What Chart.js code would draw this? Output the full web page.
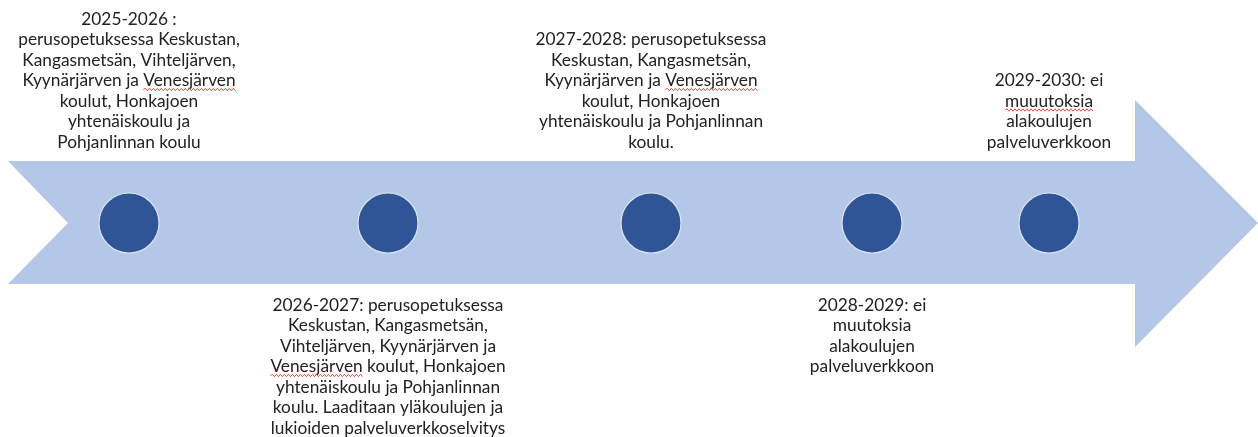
<!DOCTYPE html>
<html>
<head>
<meta charset="utf-8">
<script src="https://cdn.jsdelivr.net/npm/chart.js@4/dist/chart.umd.min.js"></script>
<style>
  html, body { margin: 0; padding: 0; background: #ffffff; }
  #wrap { width: 1258px; height: 437px; position: relative; }
</style>
</head>
<body>
<div id="wrap"><canvas id="c" width="1258" height="437"></canvas></div>
<script>
// ---- Data ----
const periods = ['2025-2026', '2026-2027', '2027-2028', '2028-2029', '2029-2030'];
// position of each milestone along the timeline (timeline units, 0..1258)
const milestonePos = [129, 388, 651, 872, 1049];
// which side of the arrow the description sits on
const labelSide = ['above', 'below', 'above', 'below', 'above'];
const text2025 = ['2025-2026 :', 'perusopetuksessa Keskustan,', 'Kangasmetsän, Vihteljärven,', 'Kyynärjärven ja Venesjärven', 'koulut, Honkajoen', 'yhtenäiskoulu ja', 'Pohjanlinnan koulu'];
const text2026 = ['2026-2027: perusopetuksessa', 'Keskustan, Kangasmetsän,', 'Vihteljärven, Kyynärjärven ja', 'Venesjärven koulut, Honkajoen', 'yhtenäiskoulu ja Pohjanlinnan', 'koulu. Laaditaan yläkoulujen ja', 'lukioiden palveluverkkoselvitys'];
const text2027 = ['2027-2028: perusopetuksessa', 'Keskustan, Kangasmetsän,', 'Kyynärjärven ja Venesjärven', 'koulut, Honkajoen', 'yhtenäiskoulu ja Pohjanlinnan', 'koulu.'];
const text2028 = ['2028-2029: ei', 'muutoksia', 'alakoulujen', 'palveluverkkoon'];
const text2029 = ['2029-2030: ei', 'muuutoksia', 'alakoulujen', 'palveluverkkoon'];
const descriptions = [text2025, text2026, text2027, text2028, text2029];
// words marked by the spell checker in the original
const flaggedWords = ['Venesjärven', 'muuutoksia'];

// ---- Styling / layout ----
const ARROW_COLOR = '#b4c7e7';
const DOT_COLOR = '#2f5597';
const TEXT_COLOR = '#222222';
const FONT = '17.3px Lato, "Open Sans", sans-serif';
const LINE_H = 20.5;
const AXIS_Y = 223;            // timeline centre line (y units)
const ABOVE_LAST = 142;        // last line centre for texts above
const BELOW_FIRST = 305;       // first line centre for texts below

// arrow outline (decoration, in scale units)
const arrowShape = [
  [8, 161], [1135, 161], [1135, 100], [1258, 223], [1135, 347], [1135, 284], [8, 284], [68, 223]
];

const arrowPlugin = {
  id: 'arrow',
  beforeDatasetsDraw(chart) {
    const { ctx, scales: { x, y } } = chart;
    ctx.save();
    ctx.beginPath();
    arrowShape.forEach(([px, py], i) => {
      const X = x.getPixelForValue(px), Y = y.getPixelForValue(py);
      if (i === 0) ctx.moveTo(X, Y); else ctx.lineTo(X, Y);
    });
    ctx.closePath();
    ctx.fillStyle = ARROW_COLOR;
    ctx.fill();
    ctx.restore();
  }
};

function wavy(ctx, x0, x1, yb) {
  ctx.save();
  ctx.strokeStyle = '#e8493f';
  ctx.lineWidth = 1;
  ctx.beginPath();
  const step = 2;
  let up = true;
  ctx.moveTo(x0, yb);
  for (let xx = x0 + step; xx <= x1; xx += step) {
    ctx.lineTo(xx, yb + (up ? -1.2 : 1.2));
    up = !up;
  }
  ctx.stroke();
  ctx.restore();
}

const labelPlugin = {
  id: 'labels',
  afterDatasetsDraw(chart) {
    const { ctx, scales: { x, y } } = chart;
    ctx.save();
    ctx.font = FONT;
    ctx.fillStyle = TEXT_COLOR;
    ctx.textBaseline = 'middle';
    descriptions.forEach((lines, i) => {
      const cx = x.getPixelForValue(milestonePos[i]);
      const firstY = labelSide[i] === 'above'
        ? ABOVE_LAST - (lines.length - 1) * LINE_H
        : BELOW_FIRST;
      lines.forEach((line, j) => {
        const ly = y.getPixelForValue(firstY + j * LINE_H);
        const w = ctx.measureText(line).width;
        const left = cx - w / 2;
        ctx.textAlign = 'left';
        ctx.fillText(line, left, ly);
        flaggedWords.forEach(word => {
          const k = line.indexOf(word);
          if (k >= 0) {
            const a = left + ctx.measureText(line.slice(0, k)).width;
            const b = a + ctx.measureText(word).width;
            wavy(ctx, a, b, ly + 9);
          }
        });
      });
    });
    ctx.restore();
  }
};

new Chart(document.getElementById('c'), {
  type: 'scatter',
  data: {
    labels: periods,
    datasets: [{
      label: 'Milestones',
      data: milestonePos.map(v => ({ x: v, y: AXIS_Y })),
      pointRadius: 30,
      pointHoverRadius: 30,
      pointBackgroundColor: DOT_COLOR,
      pointBorderColor: '#dbe4f3',
      pointBorderWidth: 1.2,
      showLine: false,
      clip: false
    }]
  },
  options: {
    responsive: false,
    animation: false,
    events: [],
    layout: { padding: 0, autoPadding: false },
    plugins: { legend: { display: false }, tooltip: { enabled: false } },
    scales: {
      x: { type: 'linear', min: 0, max: 1258, display: false },
      y: { type: 'linear', min: 0, max: 437, reverse: true, display: false }
    }
  },
  plugins: [arrowPlugin, labelPlugin]
});
</script>
</body>
</html>
